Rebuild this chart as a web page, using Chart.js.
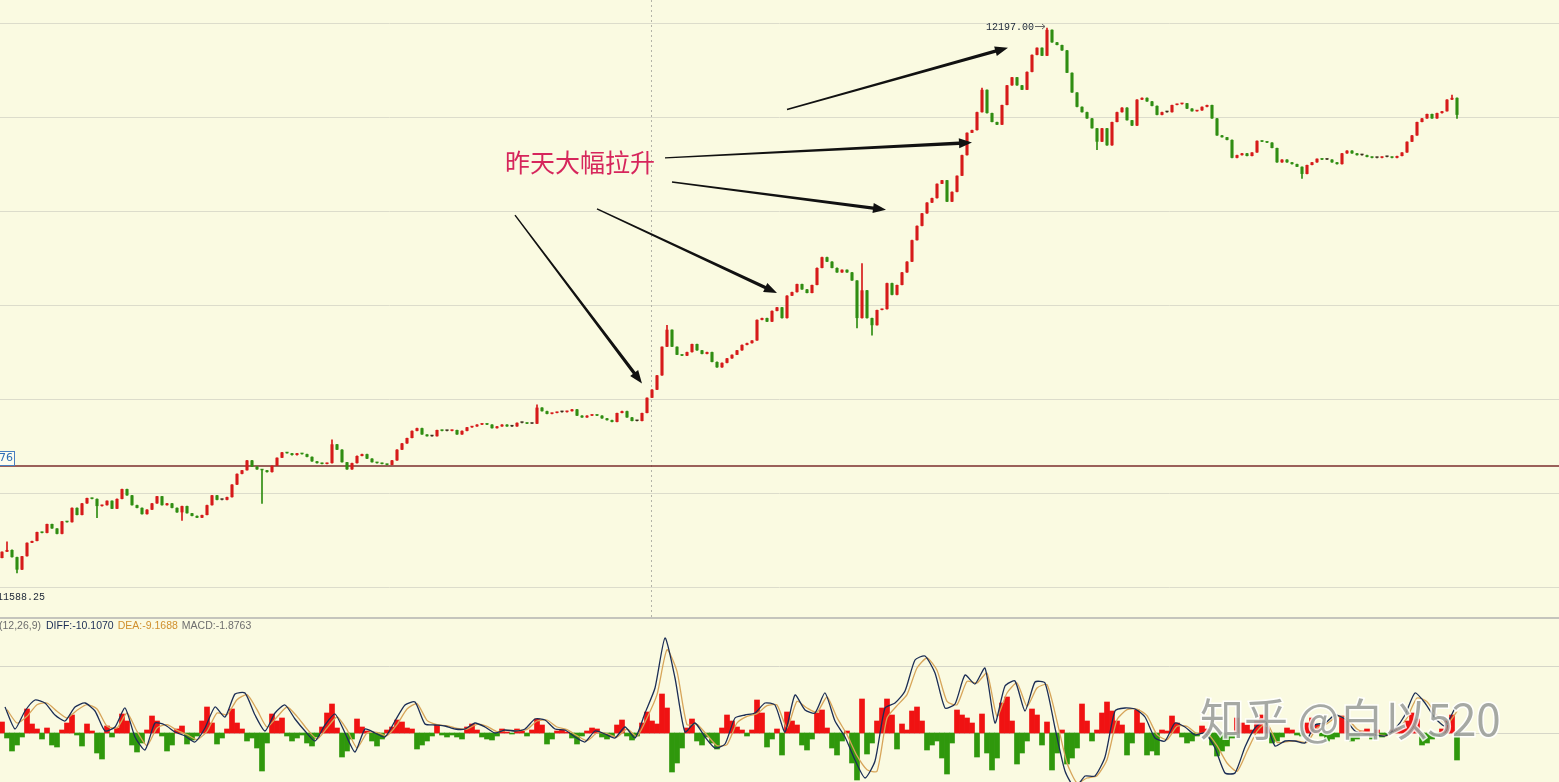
<!DOCTYPE html>
<html><head><meta charset="utf-8">
<script src="https://cdn.jsdelivr.net/npm/chart.js@4.4.1/dist/chart.umd.min.js"></script>
<style>
html,body{margin:0;padding:0;background:#fafae1;overflow:hidden}
#wrap{position:relative;width:1559px;height:782px;background:#fafae1}
.pane{position:absolute;left:0;width:1559px}
</style></head><body>
<div id="wrap">
<div class="pane" style="top:0;height:617px"><canvas id="price"></canvas></div>
<div class="pane" style="top:617px;height:165px"><canvas id="macd"></canvas></div>
</div>
<script>
// ---------- price data (one candle per bar index) ----------
const firstOpen = 11605;
const closes = [
11612,11614,11606,11592,11607,11622,11624,11634,11633,11643,
11638,11632,11646,11645,11661,11653,11666,11672,11671,11663,
11664,11669,11660,11671,11682,11675,11664,11661,11654,11659,
11666,11674,11664,11666,11661,11656,11663,11655,11652,11650,
11653,11664,11675,11670,11670,11673,11687,11699,11703,11714,
11707,11704,11703,11701,11708,11717,11723,11722,11720,11722,
11721,11718,11713,11711,11710,11711,11732,11726,11712,11704,
11711,11719,11721,11716,11712,11711,11710,11709,11714,11726,
11733,11739,11747,11750,11743,11741,11741,11748,11747,11747,
11748,11743,11747,11751,11752,11754,11755,11754,11750,11752,
11754,11752,11752,11756,11756,11755,11755,11773,11769,11766,
11767,11768,11768,11769,11771,11764,11762,11764,11765,11764,
11761,11759,11757,11767,11769,11762,11758,11758,11767,11784,
11793,11809,11841,11860,11841,11832,11831,11835,11844,11837,
11833,11835,11824,11818,11823,11828,11832,11837,11843,11845,
11848,11871,11873,11869,11881,11885,11873,11898,11902,11911,
11905,11901,11910,11929,11941,11936,11929,11924,11927,11924,
11915,11873,11904,11873,11865,11882,11883,11912,11899,11910,
11924,11936,11960,11976,11990,12002,12007,12023,12027,12003,
12014,12032,12055,12080,12083,12103,12128,12102,12092,12089,
12111,12133,12142,12133,12128,12148,12167,12175,12166,12195,
12181,12178,12172,12147,12125,12109,12103,12096,12085,12070,
12085,12066,12092,12103,12108,12094,12088,12117,12119,12115,
12110,12100,12103,12103,12111,12112,12113,12107,12104,12105,
12109,12111,12096,12077,12075,12072,12052,12055,12057,12054,
12058,12071,12070,12069,12063,12047,12050,12047,12045,12042,
12034,12044,12047,12051,12050,12050,12047,12045,12057,12060,
12057,12055,12055,12053,12052,12052,12053,12053,12052,12054,
12058,12070,12077,12092,12096,12101,12096,12102,12104,12117,
12119,12100];
// notable wick extremes [bar index, price]
const spikeHighs = [[1,11623],[66,11737],[107,11776],[133,11865],[172,11934],[196,12130],[209,12197.00],[290,12122]];
const spikeLows  = [[3,11588.25],[19,11650],[36,11647],[52,11666],[171,11862],[174,11854],[219,12061],[260,12029],[291,12096]];
const priceGrid = [12203,12098,11993,11888,11783,11678,11573];
const refPrice = 11707.76;
const refLabel = '76';
const highLabel = '12197.00', highIndex = 209, highPrice = 12197.00;
const lowLabel = '11588.25', lowIndex = 3, lowPrice = 11588.25;
const sessionBreak = 129.8;
const noteText = '昨天大幅拉升';
const notePos = [100.6, 12047];
const arrowFrom = [[102.6,11988],[119,11995],[134,12025],[132.6,12052],[157,12106]];
const arrowTo   = [[128,11800],[155,11901],[176.8,11994],[194,12069],[201.2,12175]];

// ---------- MACD data ----------
const macdHist = [
3.3,-1.5,-5.4,-3.6,-1.2,7.2,2.7,1.2,-1.8,1.5,
-3.6,-4.2,0.9,3,5.4,-0.6,-3.9,2.7,0.6,-6,
-7.8,2.1,-1.2,1.5,5.7,3.6,-3.6,-5.7,-3,0.9,
5.1,3.6,-0.9,-5.4,-3.6,1.2,2.1,-3.3,-2.1,-0.9,
3.6,7.8,3,-3.3,-1.5,1.2,7.2,3,1.2,-2.4,
-1.5,-4.5,-11.4,-3,5.7,3.6,4.5,-0.9,-2.4,-1.5,
-0.6,-3,-3.9,-1.2,1.8,6,8.7,1.5,-7.2,-5.4,
-1.8,4.2,1.8,0.6,-2.4,-3.9,-1.8,0.9,1.8,3.9,
3.3,1.5,1.2,-4.8,-3.6,-2.4,-0.9,2.4,-0.6,-1.2,
-0.6,-1.2,-1.8,1.8,2.7,0.9,-1.2,-1.8,-2.1,-0.9,
1.2,0.3,-0.3,1.2,0.6,-0.9,0.9,4.2,2.4,-3.3,
-1.8,0.6,0.9,0.3,-1.5,-3.3,-0.9,0.6,1.5,1.2,
-1.2,-1.8,-0.9,2.4,3.9,-0.9,-2.1,-0.9,3,6.3,
3.6,2.7,11.7,7.5,-11.7,-9,-4.5,1.5,4.2,-2.4,
-3.6,-1.2,-3,-4.8,1.5,5.4,3.6,1.8,0.9,-0.9,
0.9,9.9,6,-4.2,-1.8,1.2,-6.6,6.3,3.6,2.4,
-3.6,-5.1,-1.8,6,6.9,1.5,-4.5,-6.6,-2.4,0.6,
-9,-14.1,10.2,-6.3,-3,3.6,7.5,10.2,5.4,-4.8,
2.7,0.9,6.6,7.8,3.6,-5.1,-3.6,-2.4,-7.5,-12.3,
-3,6.9,5.4,4.5,3,-7.2,5.7,-6,-11.1,-7.5,
9,10.8,3.6,-9.3,-6,-2.4,7.2,5.4,-3.6,3.3,
-11.1,-6,0.9,-9.3,-7.5,-4.5,8.7,3.6,-2.4,0.9,
6,9.3,6.6,3.6,2.4,-6.6,-3,6.9,3,-6.6,
-5.4,-6.6,0.9,0.6,5.1,3,-1.2,-3,-2.4,-0.9,
2.1,1.2,-3.6,-6.9,-5.4,-3.9,-1.5,4.5,3,2.4,
0.9,3.6,5.4,1.8,-3,-2.4,-1.2,1.5,0.9,-0.6,
-0.9,3,4.5,2.4,-0.9,-2.4,-1.8,-1.2,5.1,3.6,
-2.4,-1.8,0.6,1.2,-1.8,0.9,-1.2,-0.6,0.9,1.5,
1.2,3.6,6,4.2,-3.6,-3,-1.8,-0.9,1.2,3.6,
5.4,-8.1];
// DIFF / DEA sampled every second bar
const diffLine = [
7.8,1.2,6.6,9.9,9,5.4,3.6,7.8,9,6.6,
0.6,1.8,7.5,-1.2,-5.1,3,2.4,0.3,-0.9,-2.7,
1.5,7.8,4.8,11.7,12,5.4,0.6,6,8.4,4.2,
0.6,-2.4,2.4,5.7,0,-5.7,1.2,0,-1.2,3.6,
8.4,9.3,2.7,2.4,2.1,1.2,1.2,3,1.8,0,
0.9,0.6,1.2,4.2,3.9,1.2,0.9,-1.2,-2.7,0.6,
-0.3,-1.5,1.8,-1.5,6,13.5,28.5,16.5,0.3,3,
-1.2,-4.5,-3.3,4.5,5.4,6,9,8.4,0.3,11.4,
6.9,6,12,3.6,-1.2,-8.1,-13.5,-8.4,7.5,9,
12.6,21.9,23.1,18,7.5,8.7,17.4,14.7,19.5,3,
14.1,15.6,6.6,15.3,15,1.5,-11.4,-16.5,-12.9,-12.9,
-7.2,6.6,7.5,7.2,4.8,-1.5,-2.4,3,1.8,-0.6,
0,-4.5,-12,-12,-4.2,1.5,3.6,-3.9,-2.4,-2.4,
-3,2.4,3,5.4,4.2,0.6,-0.3,-0.6,-0.9,1.2,
5.4,12,9,4.5,2.1,7.5];
const deaLine = [
7.0,3.0,5.0,8.5,9.0,6.5,4.5,6.8,8.5,7.2,
2.0,1.5,6.0,0.5,-3.8,1.5,2.5,0.8,-0.5,-2.0,
0.5,6.0,5.5,10.0,11.5,7.0,1.8,4.8,7.8,5.0,
1.2,-1.8,1.5,4.8,1.0,-4.5,0.0,0.2,-0.8,2.5,
7.2,8.8,3.8,2.5,2.2,1.4,1.2,2.6,2.0,0.4,
0.8,0.7,1.1,3.6,3.9,1.8,1.0,-0.8,-2.3,0.0,
-0.2,-1.2,1.2,-1.0,4.5,11.5,25.0,18.5,2.5,2.6,
-0.6,-3.8,-3.5,3.0,5.0,5.8,8.2,8.4,1.5,9.5,
7.5,6.2,10.8,4.6,-0.5,-6.8,-11.0,-11.5,4.5,8.2,
11.5,19.5,22.5,18.8,9.5,8.5,15.5,15.0,18.0,5.0,
12.0,15.0,8.0,13.5,14.5,3.5,-9.0,-15.0,-13.5,-12.8,
-8.0,4.0,7.0,7.2,5.2,-0.5,-2.0,2.0,2.0,-0.2,
0.0,-3.8,-9.0,-11.5,-5.5,0.5,3.0,-2.8,-2.6,-2.4,
-2.8,1.5,2.8,4.9,4.4,1.2,0.0,-0.5,-0.8,0.8,
4.5,10.5,9.4,5.2,2.6,6.5];
const macdGrid = [20, 0];
const macdLegend = ['MACD(12,26,9)', 'DIFF:-10.1070', 'DEA:-9.1688', 'MACD:-1.8763'];
const watermark = '知乎 @白以520';

// ---------- build candles ----------
const UP = '#d61a1a', DOWN = '#2f8d12', FLAT = '#3a2a1a';
const candles = closes.map((c, i) => {
  const o = i === 0 ? firstOpen : closes[i - 1];
  return { i, o, c, h: Math.max(o, c), l: Math.min(o, c) };
});
spikeHighs.forEach(([i, p]) => { candles[i].h = Math.max(candles[i].h, p); });
spikeLows.forEach(([i, p]) => { candles[i].l = Math.min(candles[i].l, p); });
const candleColor = candles.map(k => k.c > k.o ? UP : (k.c < k.o ? DOWN : FLAT));

const X_MIN = -0.4, X_MAX = 311.4;

function arrow(ctx, x1, y1, x2, y2) {
  const ang = Math.atan2(y2 - y1, x2 - x1);
  const head = 13, hw = 5, w0 = 0.7, w1 = 1.7;
  const bx = x2 - Math.cos(ang) * head, by = y2 - Math.sin(ang) * head;
  const nx = -Math.sin(ang), ny = Math.cos(ang);
  ctx.beginPath();
  ctx.moveTo(x1 + nx * w0, y1 + ny * w0);
  ctx.lineTo(bx + nx * w1, by + ny * w1);
  ctx.lineTo(bx + nx * hw, by + ny * hw);
  ctx.lineTo(x2, y2);
  ctx.lineTo(bx - nx * hw, by - ny * hw);
  ctx.lineTo(bx - nx * w1, by - ny * w1);
  ctx.lineTo(x1 - nx * w0, y1 - ny * w0);
  ctx.closePath();
  ctx.fill();
}

const priceDecor = {
  id: 'priceDecor',
  beforeDatasetsDraw(chart) {
    const { ctx, scales: { x, y }, chartArea: a } = chart;
    ctx.save();
    ctx.strokeStyle = '#dcdccb'; ctx.lineWidth = 1;
    priceGrid.forEach(v => {
      const py = Math.round(y.getPixelForValue(v)) + 0.5;
      ctx.beginPath(); ctx.moveTo(a.left, py); ctx.lineTo(a.right, py); ctx.stroke();
    });
    const sx = Math.round(x.getPixelForValue(sessionBreak)) + 0.5;
    ctx.strokeStyle = '#b4b4a8'; ctx.setLineDash([2, 3]);
    ctx.beginPath(); ctx.moveTo(sx, a.top); ctx.lineTo(sx, a.bottom); ctx.stroke();
    ctx.setLineDash([]);
    const ry = y.getPixelForValue(refPrice);
    ctx.strokeStyle = '#7a2c2c'; ctx.lineWidth = 1.6;
    ctx.beginPath(); ctx.moveTo(a.left, ry); ctx.lineTo(a.right, ry); ctx.stroke();
    ctx.restore();
  },
  afterDatasetsDraw(chart) {
    const { ctx, scales: { x, y } } = chart;
    ctx.save();
    const ry = y.getPixelForValue(refPrice);
    ctx.fillStyle = '#fdfdf0'; ctx.fillRect(-20, ry - 15, 34.5, 14);
    ctx.strokeStyle = '#4a7fc0'; ctx.lineWidth = 1;
    ctx.strokeRect(-20, Math.round(ry - 15) + 0.5, 34.5, 14);
    ctx.fillStyle = '#2f6fb5'; ctx.font = '11px "DejaVu Sans"';
    ctx.textAlign = 'right'; ctx.textBaseline = 'middle';
    ctx.fillText(refLabel, 13, ry - 7.5);
    const hx = x.getPixelForValue(highIndex), hy = y.getPixelForValue(highPrice);
    ctx.font = '10px "Liberation Mono"'; ctx.fillStyle = '#1c2638';
    ctx.textAlign = 'right';
    ctx.fillText(highLabel, hx - 13, hy - 1);
    ctx.strokeStyle = '#666'; ctx.lineWidth = 1;
    ctx.beginPath(); ctx.moveTo(hx - 12, hy - 1.5); ctx.lineTo(hx - 2, hy - 1.5); ctx.stroke();
    ctx.beginPath(); ctx.moveTo(hx - 5, hy - 4); ctx.lineTo(hx - 2, hy - 1.5); ctx.lineTo(hx - 5, hy + 1); ctx.stroke();
    const lx = x.getPixelForValue(lowIndex), ly = y.getPixelForValue(lowPrice);
    ctx.textAlign = 'left';
    ctx.fillText(lowLabel, lx - 20, ly + 24);
    ctx.font = '25px "Noto Sans CJK SC"'; ctx.fillStyle = '#d6265c';
    ctx.textAlign = 'left'; ctx.textBaseline = 'middle';
    ctx.fillText(noteText, x.getPixelForValue(notePos[0]), y.getPixelForValue(notePos[1]));
    ctx.fillStyle = '#111';
    arrowFrom.forEach((f, k) => {
      const t = arrowTo[k];
      arrow(ctx, x.getPixelForValue(f[0]), y.getPixelForValue(f[1]),
                 x.getPixelForValue(t[0]), y.getPixelForValue(t[1]));
    });
    ctx.restore();
  }
};

new Chart(document.getElementById('price'), {
  type: 'bar',
  data: {
    datasets: [
      {
        label: 'wick',
        data: candles.map(k => ({ x: k.i, y: [k.l, k.h] })),
        backgroundColor: candleColor,
        barThickness: 1, grouped: false, order: 2
      },
      {
        label: 'body',
        data: candles.map(k => ({ x: k.i, y: [k.o, k.c] })),
        backgroundColor: candleColor,
        barPercentage: 0.62, categoryPercentage: 1, minBarLength: 1.5,
        grouped: false, order: 1
      }
    ]
  },
  options: {
    responsive: true, maintainAspectRatio: false, animation: false,
    layout: { padding: 0 },
    plugins: { legend: { display: false }, tooltip: { enabled: false } },
    scales: {
      x: { type: 'linear', min: X_MIN, max: X_MAX, display: false, offset: false },
      y: { min: 11539.1, max: 12228.3, display: false }
    }
  },
  plugins: [priceDecor]
});

const macdDecor = {
  id: 'macdDecor',
  beforeDatasetsDraw(chart) {
    const { ctx, scales: { y }, chartArea: a } = chart;
    ctx.save();
    ctx.strokeStyle = '#c4c4bc'; ctx.lineWidth = 2;
    ctx.beginPath(); ctx.moveTo(a.left, 1); ctx.lineTo(a.right, 1); ctx.stroke();
    ctx.strokeStyle = '#d6d6c8'; ctx.lineWidth = 1;
    macdGrid.forEach(v => {
      const py = Math.round(y.getPixelForValue(v)) + 0.5;
      ctx.beginPath(); ctx.moveTo(a.left, py); ctx.lineTo(a.right, py); ctx.stroke();
    });
    ctx.restore();
  },
  afterDatasetsDraw(chart) {
    const { ctx } = chart;
    ctx.save();
    ctx.font = '10.5px "Liberation Sans"'; ctx.textBaseline = 'middle';
    const cols = ['#6e6e6e', '#1b2d55', '#d0902e', '#6e6e6e'];
    ctx.textAlign = 'right';
    ctx.fillStyle = cols[0];
    ctx.fillText(macdLegend[0], 41, 9.5);
    ctx.textAlign = 'left';
    let cx = 46;
    for (let k = 1; k < macdLegend.length; k++) {
      ctx.fillStyle = cols[k];
      ctx.fillText(macdLegend[k], cx, 9.5);
      cx += ctx.measureText(macdLegend[k]).width + 4;
    }
    ctx.font = '44px "Noto Sans CJK SC"';
    ctx.lineWidth = 3; ctx.strokeStyle = 'rgba(255,255,255,0.85)';
    ctx.fillStyle = 'rgba(128,132,128,0.7)';
    ctx.strokeText(watermark, 1200, 102);
    ctx.fillText(watermark, 1200, 102);
    ctx.restore();
  }
};

new Chart(document.getElementById('macd'), {
  type: 'bar',
  data: {
    datasets: [
      {
        type: 'line', label: 'DIFF',
        data: diffLine.map((v, j) => ({ x: 0.6 + 2 * j, y: v })),
        borderColor: '#1b2d55', borderWidth: 1.3, pointRadius: 0, tension: 0.2, order: 1
      },
      {
        type: 'line', label: 'DEA',
        data: deaLine.map((v, j) => ({ x: 1.0 + 2 * j, y: v })),
        borderColor: '#d7a55a', borderWidth: 1.3, pointRadius: 0, tension: 0.2, order: 2
      },
      {
        type: 'bar', label: 'MACD',
        data: macdHist.map((v, i) => ({ x: i, y: v })),
        backgroundColor: macdHist.map(v => v >= 0 ? '#f01212' : '#2f980c'),
        barPercentage: 1, categoryPercentage: 1, grouped: false, order: 3
      }
    ]
  },
  options: {
    responsive: true, maintainAspectRatio: false, animation: false,
    layout: { padding: 0 },
    plugins: { legend: { display: false }, tooltip: { enabled: false } },
    scales: {
      x: { type: 'linear', min: X_MIN, max: X_MAX, display: false, offset: false },
      y: { min: -14.7, max: 34.8, display: false }
    }
  },
  plugins: [macdDecor]
});
</script>
</body></html>
